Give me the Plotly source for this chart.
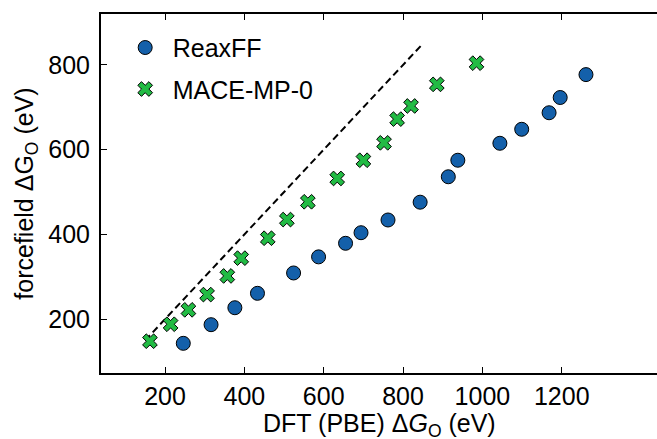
import plotly.graph_objects as go

# DFT (PBE) vs. forcefield oxygen formation free energies (eV)
reaxff_dft = [246, 316, 376, 433, 524, 587, 655, 694, 762, 843,
              914, 938, 1044, 1099, 1168, 1196, 1261]
reaxff_ff = [143, 187, 227, 261, 309, 347, 379, 404, 434, 476,
             536, 575, 615, 648, 687, 723, 777]

mace_dft = [162, 214, 259, 306, 357, 392, 459, 507, 560,
            634, 700, 752, 785, 820, 885, 985]
mace_ff = [148, 188, 222, 258, 302, 344, 391, 435, 477,
           532, 575, 616, 672, 703, 754, 804]

# y = x reference line extent
parity_range = [150, 850]

x_ticks = [200, 400, 600, 800, 1000, 1200]
y_ticks = [200, 400, 600, 800]

FONT = "Liberation Sans, Arial, sans-serif"
BLUE = "#1460AA"
GREEN = "#22BB44"

fig = go.Figure()

fig.add_trace(go.Scatter(
    x=parity_range, y=parity_range, mode="lines",
    line=dict(color="black", width=2, dash="7px,4px"),
    showlegend=False, hoverinfo="skip",
))

fig.add_trace(go.Scatter(
    x=reaxff_dft, y=reaxff_ff, mode="markers", name="ReaxFF",
    legendgroup="reaxff",
    marker=dict(symbol="circle", size=14, color=BLUE,
                line=dict(color="black", width=1)),
))

fig.add_trace(go.Scatter(
    x=mace_dft, y=mace_ff, mode="markers", name="MACE-MP-0",
    legendgroup="mace",
    marker=dict(symbol="x", size=13, color=GREEN,
                line=dict(color="black", width=1)),
))

axis_common = dict(
    showgrid=False, zeroline=False,
    showline=True, linecolor="black", linewidth=2,
    ticks="inside", ticklen=6, tickwidth=1, tickcolor="black",
    tickfont=dict(family=FONT, size=25, color="black"),
)

fig.update_xaxes(
    **axis_common,
    range=[38.6, 1440], mirror="ticks",
    tickvals=x_ticks, ticklabelstandoff=0,
)
fig.update_yaxes(
    **axis_common,
    range=[73, 920], mirror=False,
    tickvals=y_ticks, ticklabelstandoff=4,
    title=dict(text="forcefield ΔG<sub>O</sub> (eV)",
               font=dict(family=FONT, size=25, color="black"),
               standoff=8),
)

# x-axis title placed just below the tick labels
fig.add_annotation(
    text="DFT (PBE) Δ<i>G</i><sub>O</sub> (eV)",
    xref="paper", yref="paper", x=0.5, y=0, yshift=-34,
    xanchor="center", yanchor="top", showarrow=False,
    font=dict(family=FONT, size=25, color="black"),
)

fig.update_layout(
    width=657, height=439,
    margin=dict(l=101, r=0, t=14, b=66),
    plot_bgcolor="white", paper_bgcolor="white",
    font=dict(family=FONT, size=25, color="black"),
    legend=dict(x=0.03, y=0.97, xanchor="left", yanchor="top",
                bgcolor="rgba(0,0,0,0)", borderwidth=0,
                font=dict(family=FONT, size=25, color="black"),
                itemsizing="trace", itemwidth=45, tracegroupgap=6),
)

fig.write_html("out.html")
